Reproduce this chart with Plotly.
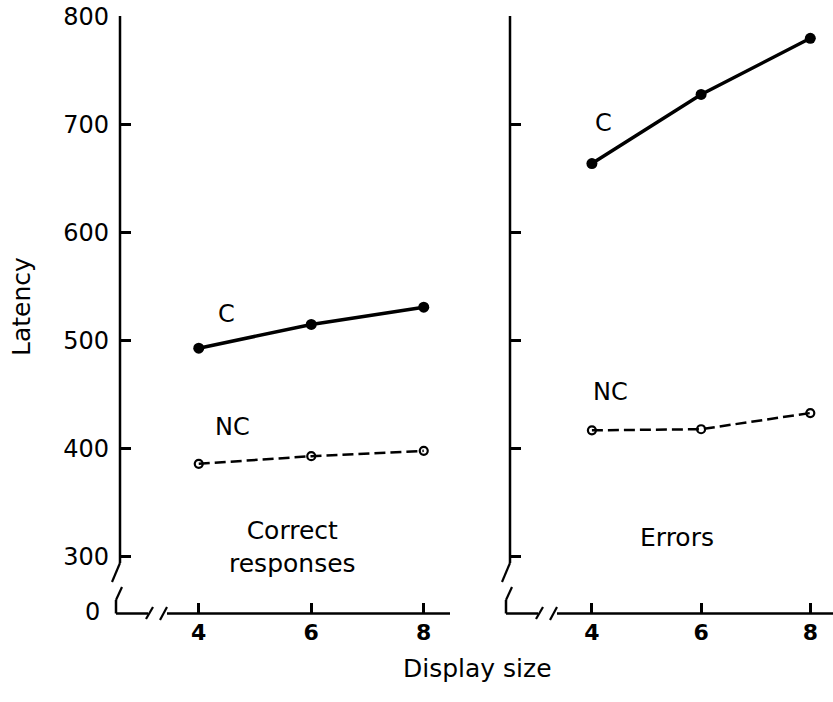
import plotly.graph_objects as go

W, H = 833, 702

# ---- data ----
display_size = [4, 6, 8]
correct_C = [493, 515, 531]
correct_NC = [386, 393, 398]
errors_C = [664, 728, 780]
errors_NC = [417, 418, 433]
y_ticks = [300, 400, 500, 600, 700, 800]
x_ticks = [4, 6, 8]

FONT = "DejaVu Sans"

def px(x):
    return x / W

def py(y):
    return 1 - y / H

fig = go.Figure()

# left panel
fig.add_trace(go.Scatter(x=display_size, y=correct_C, mode="lines+markers",
                         line=dict(color="black", width=3.5),
                         marker=dict(color="black", size=11), xaxis="x", yaxis="y",
                         showlegend=False))
fig.add_trace(go.Scatter(x=display_size, y=correct_NC, mode="lines+markers",
                         line=dict(color="black", width=2.5, dash="11px,5px"),
                         marker=dict(color="black", size=8, symbol="circle-open",
                                     line=dict(width=2.2)),
                         xaxis="x", yaxis="y", showlegend=False))
# right panel
fig.add_trace(go.Scatter(x=display_size, y=errors_C, mode="lines+markers",
                         line=dict(color="black", width=3.5),
                         marker=dict(color="black", size=11), xaxis="x2", yaxis="y2",
                         showlegend=False))
fig.add_trace(go.Scatter(x=display_size, y=errors_NC, mode="lines+markers",
                         line=dict(color="black", width=2.5, dash="11px,5px"),
                         marker=dict(color="black", size=8, symbol="circle-open",
                                     line=dict(width=2.2)),
                         xaxis="x2", yaxis="y2", showlegend=False))

y_dom = [py(614), py(16.7)]
y_rng = [246.9, 800]
tickfont = dict(family=FONT, size=24, color="black")

common_y = dict(range=y_rng, domain=y_dom, tickvals=y_ticks, ticks="inside",
                ticklen=11, tickwidth=2.5, tickcolor="black", showline=False,
                showgrid=False, zeroline=False, tickfont=tickfont,
                ticklabelstandoff=10, automargin=False)
common_x = dict(tickvals=x_ticks, ticktext=["<b>%d</b>" % v for v in x_ticks],
                ticks="inside", ticklen=11, tickwidth=2.5, tickcolor="black",
                showline=False, showgrid=False, zeroline=False,
                tickfont=dict(family=FONT, size=22, color="black"),
                ticklabelstandoff=3, automargin=False)

AX1, AX2 = 120, 510
END1, END2 = 450, 833

fig.update_layout(
    width=W, height=H,
    margin=dict(l=0, r=0, t=0, b=0, autoexpand=False),
    paper_bgcolor="white", plot_bgcolor="rgba(0,0,0,0)",
    xaxis=dict(domain=[px(AX1), px(END1)], range=[2.6, 2.6 + (END1 - AX1) / 56.25],
               anchor="y", **common_x),
    yaxis=dict(anchor="x", **common_y),
    xaxis2=dict(domain=[px(AX2), px(END2)], range=[2.5, 2.5 + (END2 - AX2) / 54.6],
                anchor="y2", **common_x),
    yaxis2=dict(anchor="x2", showticklabels=False, **common_y),
)

# axis lines with breaks (decoration)
shapes = []

def seg(x0, y0, x1, y1, w=2.5):
    shapes.append(dict(type="line", xref="paper", yref="paper",
                       x0=px(x0), y0=py(y0), x1=px(x1), y1=py(y1),
                       line=dict(color="black", width=w)))

for ax, end in [(AX1, END1), (AX2, END2)]:
    seg(ax, 16, ax, 563)
    seg(ax, 563, ax - 8, 582, 2.2)
    seg(ax + 2, 587, ax - 4, 600, 2.2)
    seg(ax - 4, 600, ax - 4, 613.5)
    seg(ax - 4, 613.5, ax + 28, 613.5)
    seg(ax + 26, 619, ax + 33, 607, 2.2)
    seg(ax + 40, 620, ax + 47, 607, 2.2)
    seg(ax + 47, 613.5, end, 613.5)

fig.update_layout(shapes=shapes)

ann = []

def text(x, y, t, size=24, xanchor="center", **kw):
    ann.append(dict(x=px(x), y=py(y), xref="paper", yref="paper", text=t,
                    showarrow=False, xanchor=xanchor, yanchor="middle",
                    font=dict(family=FONT, size=size, color="black"), **kw))

text(102, 612, "0", size=24, xanchor="right")
text(226, 314, "C")
text(232, 427, "NC")
text(603, 123, "C")
text(610, 392, "NC")
text(292, 547, "Correct<br>responses", size=25, align="center")
text(677, 537, "Errors", size=25)
text(477, 668, "Display size", size=25)
text(22, 307, "Latency", size=25, textangle=-90)

fig.update_layout(annotations=ann)

fig.write_html("out.html", config={"displayModeBar": False},
               post_script="document.body.style.margin='0';")
